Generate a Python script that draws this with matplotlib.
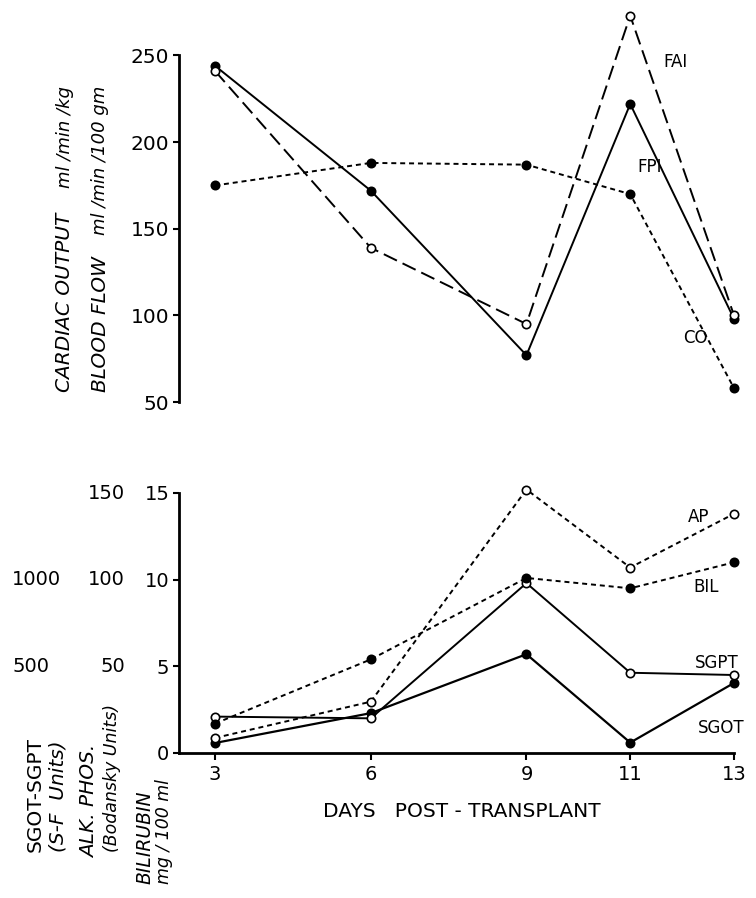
#!/usr/bin/env python3
"""Cardiac output / blood flow and liver function after transplant, two stacked panels."""
import numpy as np
import matplotlib
matplotlib.use("Agg")
import matplotlib.pyplot as plt

# Data
days = [3, 6, 9, 11, 13]

# Top panel (ml/min/kg and ml/min/100gm)
fai = [241, 139, 95, 273, 100]
fpi = [244, 172, 77, 222, 98]
co = [175, 188, 187, 170, 58]

# Bottom panel
sgot = [58, 230, 570, 60, 404]      # S-F units
sgpt = [210, 200, 980, 463, 450]    # S-F units
ap = [8.7, 29.6, 152, 107, 138]     # Bodansky units
bil = [1.7, 5.4, 10.1, 9.5, 11.0]   # mg/100 ml

top_ticks = [50, 100, 150, 200, 250]
bil_ticks = [0, 5, 10, 15]
ap_ticks = [50, 100, 150]
sg_ticks = [500, 1000]

W, H = 756, 898
plt.rcParams["font.family"] = ["DejaVu Sans"]
plt.rcParams["lines.scale_dashes"] = False
fig = plt.figure(figsize=(W / 100, H / 100), dpi=100)


def fx(x):
    return x / W


def fy(y):
    return 1 - y / H


def label(ax, x, y, s, size=12):
    # place a text by pixel position measured from the top left
    ax.text(x, H - y, s, transform=None, fontsize=size, ha="left", va="center")


left, right = fx(179), fx(734)
ax_top = fig.add_axes([left, fy(402), right - left, fy(55.5) - fy(402)])
ax_bot = fig.add_axes([left, fy(753), right - left, fy(493) - fy(753)])

xlim = (3 - 36 / 51.7, 13)
long_dash = (10.5, 4.5)
short_dash = (3.6, 2.8)
mk = dict(markersize=6, markeredgewidth=1.2, clip_on=False)

# Top panel
ax_top.plot(days, fpi, "-", color="black", lw=1.4, marker="o", mfc="black", mec="black", **mk)
ax_top.plot(days, fai, color="black", lw=1.4, dashes=long_dash, marker="o", mfc="white", mec="black", **mk)
ax_top.plot(days, co, color="black", lw=1.4, dashes=short_dash, marker="o", mfc="black", mec="black", **mk)
ax_top.set_xlim(*xlim)
ax_top.set_ylim(50, 250)
ax_top.set_yticks(top_ticks)
ax_top.set_xticks([])
for s in ["top", "right", "bottom"]:
    ax_top.spines[s].set_visible(False)
ax_top.spines["left"].set_linewidth(2)
ax_top.tick_params(axis="y", direction="out", length=4, width=1.5, labelsize=14.5, pad=3)
label(ax_top, 663, 62, "FAI")
label(ax_top, 637, 167, "FPI")
label(ax_top, 683, 338, "CO")

# Bottom panel, everything on the bilirubin scale 0-15
ax_bot.plot(days, np.array(sgot) / 100, "-", color="black", lw=1.6, marker="o", mfc="black", mec="black", **mk)
ax_bot.plot(days, np.array(sgpt) / 100, "-", color="black", lw=1.4, marker="o", mfc="white", mec="black", **mk)
ax_bot.plot(days, np.array(ap) / 10, color="black", lw=1.4, dashes=short_dash, marker="o", mfc="white", mec="black", **mk)
ax_bot.plot(days, bil, color="black", lw=1.4, dashes=short_dash, marker="o", mfc="black", mec="black", **mk)
ax_bot.set_xlim(*xlim)
ax_bot.set_ylim(0, 15)
ax_bot.set_yticks(bil_ticks)
ax_bot.set_xticks(days)
ax_bot.set_xticklabels([str(d) for d in days])
for s in ["top", "right"]:
    ax_bot.spines[s].set_visible(False)
ax_bot.spines["left"].set_linewidth(2)
ax_bot.spines["bottom"].set_linewidth(2)
ax_bot.tick_params(axis="y", direction="out", length=4, width=1.5, labelsize=14, pad=3)
ax_bot.tick_params(axis="x", direction="out", length=5, width=1.5, labelsize=14, pad=4)
ax_bot.set_xlabel("DAYS   POST - TRANSPLANT", fontsize=14.5)
ax_bot.xaxis.set_label_coords(fx(462 - 179) / (right - left), -0.19)

for v in ap_ticks:
    ax_bot.text(125, H - 753 + v / 10 * 17.33, str(v), transform=None, fontsize=14, ha="right", va="center")
for v in sg_ticks:
    ax_bot.text(12, H - 753 + v / 100 * 17.33, str(v), transform=None, fontsize=14, ha="left", va="center")

label(ax_bot, 688, 517, "AP")
label(ax_bot, 693, 587, "BIL")
label(ax_bot, 695, 663, "SGPT")
label(ax_bot, 698, 728, "SGOT")

# Rotated axis titles
rot = dict(rotation=90, ha="center", va="bottom")
fig.text(fx(65), fy(392), "CARDIAC OUTPUT", fontsize=14.5, style="italic", **rot)
fig.text(fx(65), fy(188), "ml /min /kg", fontsize=13, style="italic", **rot)
fig.text(fx(100), fy(392), "BLOOD FLOW", fontsize=14.5, style="italic", **rot)
fig.text(fx(100), fy(235), "ml /min /100 gm", fontsize=13, style="italic", **rot)

fig.text(fx(35), fy(852), "SGOT-SGPT", fontsize=14.5, **rot)
fig.text(fx(58), fy(852), "(S-F  Units)", fontsize=14.5, style="italic", **rot)
fig.text(fx(90), fy(858), "ALK. PHOS.", fontsize=14.5, style="italic", **rot)
fig.text(fx(112), fy(852), "(Bodansky Units)", fontsize=12.5, style="italic", **rot)
fig.text(fx(145), fy(884), "BILIRUBIN", fontsize=13.5, style="italic", **rot)
fig.text(fx(164), fy(884), "mg / 100 ml", fontsize=12.5, style="italic", **rot)

fig.savefig("out.png", dpi=100)
